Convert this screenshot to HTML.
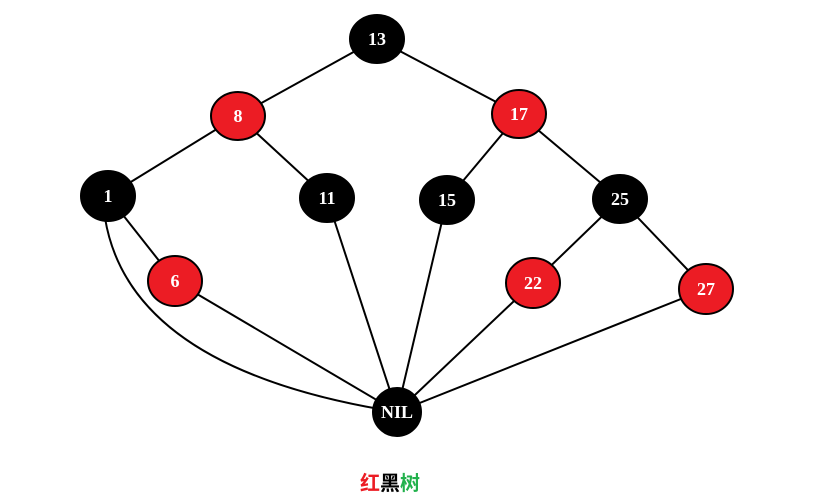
<!DOCTYPE html>
<html><head><meta charset="utf-8"><style>body{margin:0;background:#fff}</style></head><body>
<svg width="823" height="500" xmlns="http://www.w3.org/2000/svg" style="display:block">
<g stroke="#000" stroke-width="2" fill="none">
<line x1="377" y1="39" x2="238" y2="116"/>
<line x1="377" y1="39" x2="519" y2="114"/>
<line x1="238" y1="116" x2="108" y2="196"/>
<line x1="238" y1="116" x2="327" y2="198"/>
<line x1="519" y1="114" x2="447" y2="200"/>
<line x1="519" y1="114" x2="620" y2="199"/>
<line x1="108" y1="196" x2="175" y2="281"/>
<line x1="620" y1="199" x2="533" y2="283"/>
<line x1="620" y1="199" x2="706" y2="289"/>
<path d="M105 218 Q130 370 397 412"/>
<line x1="175" y1="281" x2="397" y2="412"/>
<line x1="327" y1="198" x2="397" y2="412"/>
<line x1="447" y1="200" x2="397" y2="412"/>
<line x1="533" y1="283" x2="397" y2="412"/>
<line x1="706" y1="289" x2="397" y2="412"/>
</g>
<g stroke="#000" stroke-width="2">
<ellipse cx="377" cy="39" rx="27" ry="24" fill="#000"/>
<ellipse cx="238" cy="116" rx="27" ry="24" fill="#ec1c24"/>
<ellipse cx="519" cy="114" rx="27" ry="24" fill="#ec1c24"/>
<ellipse cx="108" cy="196" rx="27" ry="25" fill="#000"/>
<ellipse cx="327" cy="198" rx="27" ry="24" fill="#000"/>
<ellipse cx="447" cy="200" rx="27" ry="24" fill="#000"/>
<ellipse cx="620" cy="199" rx="27" ry="24" fill="#000"/>
<ellipse cx="175" cy="281" rx="27" ry="25" fill="#ec1c24"/>
<ellipse cx="533" cy="283" rx="27" ry="25" fill="#ec1c24"/>
<ellipse cx="706" cy="289" rx="27" ry="25" fill="#ec1c24"/>
<ellipse cx="397" cy="412" rx="24" ry="24" fill="#000"/>
</g>
<g fill="#fff" font-family="Liberation Serif, serif" font-weight="bold" font-size="18" text-anchor="middle">
<text x="377" y="45">13</text>
<text x="238" y="122">8</text>
<text x="519" y="120">17</text>
<text x="108" y="202">1</text>
<text x="327" y="204">11</text>
<text x="447" y="206">15</text>
<text x="620" y="205">25</text>
<text x="175" y="287">6</text>
<text x="533" y="289">22</text>
<text x="706" y="295">27</text>
<text x="397" y="418">NIL</text>
</g>
<text x="390" y="490" text-anchor="middle" font-family="Liberation Sans, Noto Sans CJK SC, sans-serif" font-weight="bold" font-size="20"><tspan fill="#ec1c24">红</tspan><tspan fill="#000">黑</tspan><tspan fill="#22b14c">树</tspan></text>
</svg>
</body></html>
